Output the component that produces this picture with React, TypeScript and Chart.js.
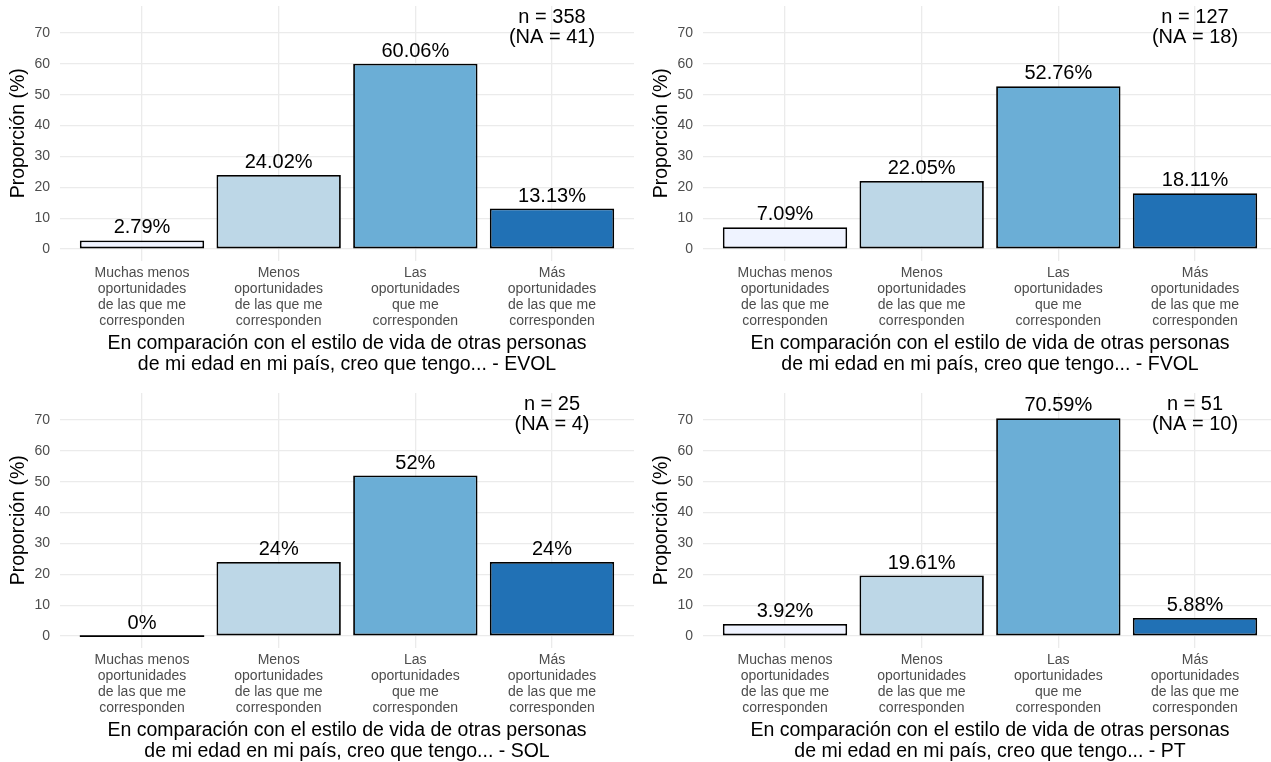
import React, { useEffect, useRef } from 'react';
import { Chart, registerables } from 'chart.js';

Chart.register(...registerables);

// ---- Data ----
const categories: string[][] = [
  ['Muchas menos', 'oportunidades', 'de las que me', 'corresponden'],
  ['Menos', 'oportunidades', 'de las que me', 'corresponden'],
  ['Las', 'oportunidades', 'que me', 'corresponden'],
  ['Más', 'oportunidades', 'de las que me', 'corresponden'],
];
const evolValues = [2.79, 24.02, 60.06, 13.13];
const fvolValues = [7.09, 22.05, 52.76, 18.11];
const solValues = [0, 24, 52, 24];
const ptValues = [3.92, 19.61, 70.59, 5.88];
const groupNames = ['EVOL', 'FVOL', 'SOL', 'PT'];
const nCounts = [358, 127, 25, 51];
const naCounts = [41, 18, 4, 10];
const yTicks = [0, 10, 20, 30, 40, 50, 60, 70];
const barColors = ['#EFF3FF', '#BDD7E7', '#6BAED6', '#2171B5'];
const yAxisTitle = 'Proporción (%)';
const xTitleLines = [
  'En comparación con el estilo de vida de otras personas',
  'de mi edad en mi país, creo que tengo... - ',
];

const FONT = '"Liberation Sans", Arial, Helvetica, sans-serif';
const W = 636;
const H = 375;
const PLOT_LEFT = 60;
const PLOT_RIGHT = 634;
const PLOT_TOP = 6;
const PLOT_BOTTOM = 260.6;

function fmt(v: number): string {
  return String(Number(v.toFixed(2))) + '%';
}

interface PanelProps {
  values: number[];
  n: number;
  na: number;
  name: string;
  left: number;
  top: number;
}

function Panel({ values, n, na, name, left, top }: PanelProps) {
  const ref = useRef<HTMLCanvasElement | null>(null);
  useEffect(() => {
    if (!ref.current) return;
    const labelPlugin = {
      id: 'barLabels',
      afterDatasetsDraw(chart: any) {
        const ctx = chart.ctx;
        const meta = chart.getDatasetMeta(0);
        ctx.save();
        meta.data.forEach((el: any, i: number) => {
          const v = values[i];
          const p = el.getProps(['x', 'y', 'width', 'base'], true);
          if (v === 0) {
            ctx.strokeStyle = '#000';
            ctx.lineWidth = 1.8;
            ctx.beginPath();
            ctx.moveTo(p.x - p.width / 2, p.y);
            ctx.lineTo(p.x + p.width / 2, p.y);
            ctx.stroke();
          }
          ctx.font = `20px ${FONT}`;
          ctx.fillStyle = '#000';
          ctx.textAlign = 'center';
          ctx.textBaseline = 'alphabetic';
          ctx.fillText(fmt(v), p.x, p.y - 7);
        });
        const xs = chart.scales.x;
        const ys = chart.scales.y;
        const ax = xs.getPixelForValue(3);
        const ay = ys.getPixelForValue(75);
        ctx.font = `20px ${FONT}`;
        ctx.fillStyle = '#000';
        ctx.textAlign = 'center';
        ctx.textBaseline = 'middle';
        ctx.fillText(`n = ${n}`, ax, ay);
        ctx.fillText(`(NA = ${na})`, ax, ay + 20);
        ctx.restore();
      },
    };

    const chart = new Chart(ref.current, {
      type: 'bar',
      data: {
        datasets: [
          {
            data: values.map((v, i) => ({ x: i, y: v })),
            backgroundColor: barColors,
            borderColor: '#000000',
            borderWidth: 1.8,
            borderSkipped: false,
            barPercentage: 0.91,
            categoryPercentage: 1,
          },
        ],
      },
      options: {
        responsive: false,
        animation: false,
        devicePixelRatio: 1,
        layout: {
          padding: { left: 0, top: PLOT_TOP, right: W - PLOT_RIGHT, bottom: 0 },
        },
        plugins: {
          legend: { display: false },
          tooltip: { enabled: false },
        },
        scales: {
          x: {
            type: 'linear',
            min: -0.6,
            max: 3.6,
            offset: false,
            afterBuildTicks: (scale: any) => {
              scale.ticks = categories.map((_, i) => ({ value: i }));
            },
            afterFit: (scale: any) => {
              scale.height = H - PLOT_BOTTOM;
              scale.paddingLeft = 0;
              scale.paddingRight = 0;
            },
            border: { display: false },
            grid: { color: '#EBEBEB', lineWidth: 1.3, drawTicks: false, offset: false },
            ticks: {
              autoSkip: false,
              maxRotation: 0,
              minRotation: 0,
              padding: 4.4,
              color: '#4D4D4D',
              font: { family: FONT, size: 14, lineHeight: '16px' },
              callback: (value: any) => categories[Math.round(Number(value))] ?? '',
            },
            title: {
              display: true,
              text: [xTitleLines[0], xTitleLines[1] + name],
              color: '#000',
              font: { family: FONT, size: 19.5, lineHeight: '21px' },
              padding: { top: 0, bottom: -0.5 },
            },
          },
          y: {
            type: 'linear',
            min: -3.75,
            max: 78.75,
            afterBuildTicks: (scale: any) => {
              scale.ticks = yTicks.map((v) => ({ value: v }));
            },
            afterFit: (scale: any) => {
              scale.width = PLOT_LEFT;
              scale.paddingTop = 0;
              scale.paddingBottom = 0;
            },
            border: { display: false },
            grid: { color: '#EBEBEB', lineWidth: 1.3, drawTicks: false },
            ticks: {
              padding: 10,
              color: '#4D4D4D',
              font: { family: FONT, size: 14 },
              callback: (value: any) => String(value),
            },
            title: {
              display: true,
              text: yAxisTitle,
              color: '#000',
              font: { family: FONT, size: 19.5, lineHeight: 1.2 },
              padding: { top: 7, bottom: 0 },
            },
          },
        },
      },
      plugins: [labelPlugin],
    } as any);
    return () => chart.destroy();
  }, [values, n, na, name]);

  return (
    <div style={{ position: 'absolute', left, top, width: W, height: H }}>
      <canvas ref={ref} width={W} height={H} style={{ width: W, height: H, display: 'block' }} />
    </div>
  );
}

const panelValues = [evolValues, fvolValues, solValues, ptValues];
const panelLefts = [0, 643, 0, 643];
const panelTops = [0, 0, 387, 387];

export default function App() {
  return (
    <div
      style={{
        position: 'absolute',
        left: 0,
        top: 0,
        width: 1271,
        height: 762,
        overflow: 'hidden',
        background: '#fff',
      }}
    >
      {panelValues.map((vals, i) => (
        <Panel
          key={groupNames[i]}
          values={vals}
          n={nCounts[i]}
          na={naCounts[i]}
          name={groupNames[i]}
          left={panelLefts[i]}
          top={panelTops[i]}
        />
      ))}
    </div>
  );
}
